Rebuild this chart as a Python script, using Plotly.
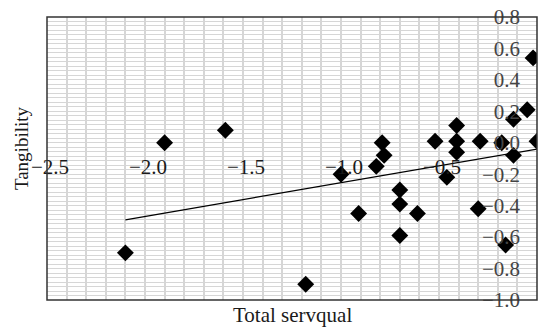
import plotly.graph_objects as go

# Data
servqual = [-2.10, -1.90, -1.59, -1.18, -1.00, -0.91, -0.79, -0.78, -0.82, -0.70, -0.70, -0.70,
            -0.61, -0.52, -0.46, -0.41, -0.41, -0.41, -0.30, -0.29, -0.18, -0.16, -0.12, -0.12,
            -0.05, -0.02, 0.00]
tangibility = [-0.70, 0.00, 0.08, -0.90, -0.20, -0.45, 0.00, -0.08, -0.15, -0.30, -0.39, -0.59,
               -0.45, 0.01, -0.22, 0.11, 0.01, -0.06, -0.42, 0.01, 0.00, -0.65, 0.15, -0.08,
               0.21, 0.54, 0.01]
trend_x = [-2.10, 0.00]
trend_y = [-0.49, -0.04]

x_tickvals = [-2.5, -2.0, -1.5, -1.0, -0.5, 0.0]
x_ticktext = ["\u22122.5", "\u22122.0", "\u22121.5", "\u22121.0", "\u22120.5", "0"]
y_tickvals = [-1.0, -0.8, -0.6, -0.4, -0.2, 0.0, 0.2, 0.4, 0.6, 0.8]
y_ticktext = ["\u22121.0", "\u22120.8", "\u22120.6", "\u22120.4", "\u22120.2", "0.0", "0.2", "0.4", "0.6", "0.8"]

FONT = "Liberation Serif"
fig = go.Figure()
fig.add_trace(go.Scatter(x=servqual, y=tangibility, mode="markers",
                         marker=dict(symbol="diamond", size=13, color="black", line=dict(width=0)),
                         showlegend=False))
fig.add_trace(go.Scatter(x=trend_x, y=trend_y, mode="lines",
                         line=dict(color="black", width=1.3), showlegend=False))

fig.update_layout(
    width=544, height=334,
    margin=dict(l=47, r=7, t=17, b=34),
    paper_bgcolor="white", plot_bgcolor="white",
    font=dict(family=FONT, size=21, color="#1a1a1a"),
    xaxis=dict(range=[-2.5, 0], anchor="free", position=1.0/1.8,
               tickvals=x_tickvals, ticktext=x_ticktext, ticks="",
               showline=False, zeroline=False,
               showgrid=True, gridcolor="#d6d6d6", gridwidth=1.5,
               minor=dict(dtick=0.1, tick0=-2.5, showgrid=True, gridcolor="#d6d6d6", gridwidth=1.5),
               ticklabelstandoff=9, ticklabelshift=3, automargin=False),
    yaxis=dict(range=[-1.0, 0.8], side="right", ticklabelposition="inside",
               ticklabeloverflow="allow",
               tickvals=y_tickvals, ticktext=y_ticktext, ticks="",
               showline=False, zeroline=False,
               showgrid=True, gridcolor="#d6d6d6", gridwidth=1,
               minor=dict(dtick=0.2/7, tick0=0, showgrid=True, gridcolor="#d6d6d6", gridwidth=1),
               ticklabelstandoff=14, automargin=False),
    shapes=[dict(type="rect", xref="paper", yref="paper", x0=0, x1=1, y0=0, y1=1,
                 line=dict(color="#333333", width=1.5), layer="above")],
    annotations=[
        dict(text="Total servqual", xref="paper", yref="paper", x=0.5, y=-0.005,
             xanchor="center", yanchor="top", showarrow=False, font=dict(size=21)),
        dict(text="Tangibility", xref="paper", yref="paper", x=-0.052, y=0.535,
             xanchor="center", yanchor="middle", textangle=-90, showarrow=False, font=dict(size=19)),
    ],
)

fig.write_html("out.html", config={"displayModeBar": False})
with open("out.html", "r", encoding="utf-8") as f:
    html = f.read()
html = html.replace("<head>", "<head><style>html,body{margin:0;padding:0;overflow:hidden}</style>", 1)
with open("out.html", "w", encoding="utf-8") as f:
    f.write(html)
